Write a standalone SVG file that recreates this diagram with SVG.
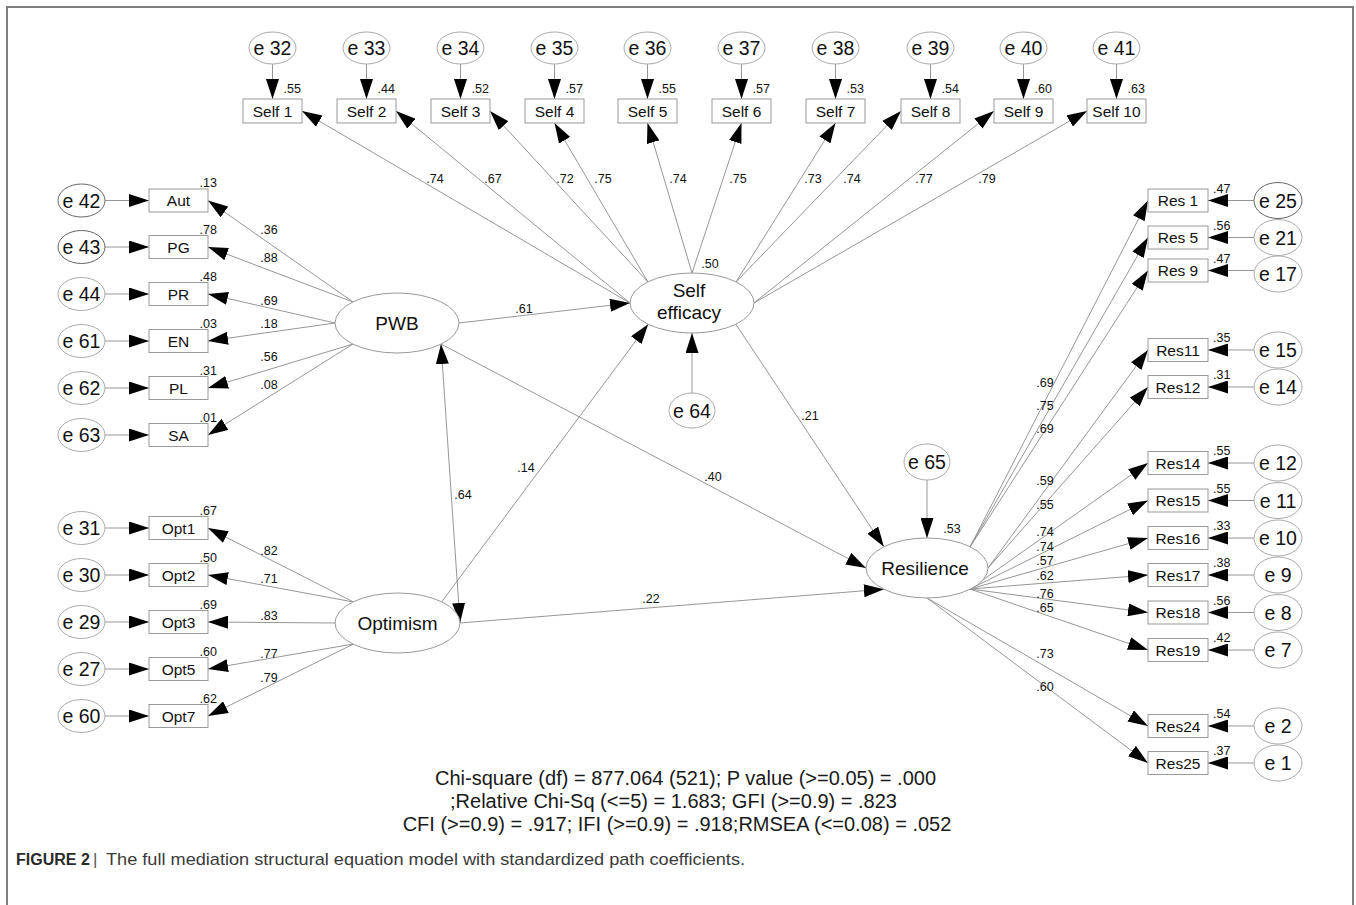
<svg xmlns="http://www.w3.org/2000/svg" width="1356" height="905" viewBox="0 0 1356 905">
<style>
.e{fill:#fff;stroke:#aaa;stroke-width:1}
.ed{fill:#fff;stroke:#666;stroke-width:1}
.box{fill:#fff;stroke:#999;stroke-width:1}
.lat{fill:#fff;stroke:#999;stroke-width:1}
.ln{stroke:#8a8a8a;stroke-width:0.9;fill:none;marker-end:url(#ah)}
.dl{stroke:#8a8a8a;stroke-width:0.9;fill:none;marker-end:url(#ah);marker-start:url(#ah)}
text{font-family:"Liberation Sans",Arial,sans-serif;fill:#111}
.et{font-size:19.5px;text-anchor:middle}
.lt{font-size:19px;text-anchor:middle}
.bt{font-size:15.5px;text-anchor:middle}
.nt{font-size:12.5px}
.nc{font-size:12.5px;text-anchor:middle}
.ne{font-size:12.5px;text-anchor:end}
.fit{font-size:20px;text-anchor:middle;fill:#1a1a1a}
</style>
<defs>
<marker id="ah" markerUnits="userSpaceOnUse" viewBox="0 0 20 13" markerWidth="20" markerHeight="13" refX="20" refY="6.5" orient="auto-start-reverse"><path d="M0,0 L20,6.5 L0,13 z" fill="#000"/></marker>
</defs>
<rect width="1356" height="905" fill="#fff"/>
<path d="M7,905 V7 H1353 V905" fill="none" stroke="#7f7f7f" stroke-width="2"/>

<g id="connectors">
<!-- top errors to Self -->
<line class="ln" x1="272.5" y1="64" x2="272.5" y2="99"/>
<line class="ln" x1="366.5" y1="64" x2="366.5" y2="99"/>
<line class="ln" x1="460.5" y1="64" x2="460.5" y2="99"/>
<line class="ln" x1="554.5" y1="64" x2="554.5" y2="99"/>
<line class="ln" x1="647.5" y1="64" x2="647.5" y2="99"/>
<line class="ln" x1="741.5" y1="64" x2="741.5" y2="99"/>
<line class="ln" x1="835.5" y1="64" x2="835.5" y2="99"/>
<line class="ln" x1="930.5" y1="64" x2="930.5" y2="99"/>
<line class="ln" x1="1023.5" y1="64" x2="1023.5" y2="99"/>
<line class="ln" x1="1116.5" y1="64" x2="1116.5" y2="99"/>
<!-- SE to Self -->
<line class="ln" x1="630" y1="303" x2="302" y2="111"/>
<line class="ln" x1="630" y1="303" x2="396" y2="111"/>
<line class="ln" x1="648" y1="282" x2="490" y2="111"/>
<line class="ln" x1="648" y1="282" x2="554.5" y2="123"/>
<line class="ln" x1="692" y1="273" x2="647.5" y2="123"/>
<line class="ln" x1="692" y1="273" x2="741.5" y2="123"/>
<line class="ln" x1="736" y1="282" x2="835.5" y2="123"/>
<line class="ln" x1="736" y1="282" x2="901" y2="111"/>
<line class="ln" x1="754" y1="303" x2="994" y2="111"/>
<line class="ln" x1="754" y1="303" x2="1087" y2="111"/>
<!-- left errors -->
<line class="ln" x1="105" y1="200.5" x2="149" y2="200.5"/>
<line class="ln" x1="105" y1="247" x2="149" y2="247"/>
<line class="ln" x1="105" y1="294" x2="149" y2="294"/>
<line class="ln" x1="105" y1="341" x2="149" y2="341"/>
<line class="ln" x1="105" y1="388" x2="149" y2="388"/>
<line class="ln" x1="105" y1="435" x2="149" y2="435"/>
<line class="ln" x1="105" y1="528" x2="149" y2="528"/>
<line class="ln" x1="105" y1="575" x2="149" y2="575"/>
<line class="ln" x1="105" y1="622" x2="149" y2="622"/>
<line class="ln" x1="105" y1="669" x2="149" y2="669"/>
<line class="ln" x1="105" y1="716" x2="149" y2="716"/>
<!-- PWB indicators -->
<line class="ln" x1="353" y1="302" x2="208" y2="200.5"/>
<line class="ln" x1="353" y1="302" x2="208" y2="247"/>
<line class="ln" x1="335" y1="323" x2="208" y2="294"/>
<line class="ln" x1="335" y1="323" x2="208" y2="341"/>
<line class="ln" x1="353" y1="344" x2="208" y2="388"/>
<line class="ln" x1="353" y1="344" x2="208" y2="435"/>
<!-- Optimism indicators -->
<line class="ln" x1="353.5" y1="602" x2="208" y2="528"/>
<line class="ln" x1="353.5" y1="602" x2="208" y2="575"/>
<line class="ln" x1="335" y1="623" x2="208" y2="622"/>
<line class="ln" x1="353.5" y1="644" x2="208" y2="669"/>
<line class="ln" x1="353.5" y1="644" x2="208" y2="716"/>
<!-- Resilience indicators -->
<line class="ln" x1="970" y1="547" x2="1148" y2="200.5"/>
<line class="ln" x1="970" y1="547" x2="1148" y2="237.5"/>
<line class="ln" x1="970" y1="547" x2="1148" y2="270.5"/>
<line class="ln" x1="988" y1="568" x2="1148" y2="350"/>
<line class="ln" x1="988" y1="568" x2="1148" y2="387"/>
<line class="ln" x1="970" y1="589" x2="1148" y2="463"/>
<line class="ln" x1="970" y1="589" x2="1148" y2="500.5"/>
<line class="ln" x1="970" y1="589" x2="1148" y2="538"/>
<line class="ln" x1="970" y1="589" x2="1148" y2="575"/>
<line class="ln" x1="970" y1="589" x2="1148" y2="612.5"/>
<line class="ln" x1="970" y1="589" x2="1148" y2="650"/>
<line class="ln" x1="927" y1="598" x2="1148" y2="726"/>
<line class="ln" x1="927" y1="598" x2="1148" y2="763"/>
<!-- right errors -->
<line class="ln" x1="1254" y1="200.5" x2="1208" y2="200.5"/>
<line class="ln" x1="1254" y1="237.5" x2="1208" y2="237.5"/>
<line class="ln" x1="1254" y1="270.5" x2="1208" y2="270.5"/>
<line class="ln" x1="1254" y1="350" x2="1208" y2="350"/>
<line class="ln" x1="1254" y1="387" x2="1208" y2="387"/>
<line class="ln" x1="1254" y1="463" x2="1208" y2="463"/>
<line class="ln" x1="1254" y1="500.5" x2="1208" y2="500.5"/>
<line class="ln" x1="1254" y1="538" x2="1208" y2="538"/>
<line class="ln" x1="1254" y1="575" x2="1208" y2="575"/>
<line class="ln" x1="1254" y1="612.5" x2="1208" y2="612.5"/>
<line class="ln" x1="1254" y1="650" x2="1208" y2="650"/>
<line class="ln" x1="1254" y1="726" x2="1208" y2="726"/>
<line class="ln" x1="1254" y1="763" x2="1208" y2="763"/>
<!-- structural -->
<line class="ln" x1="459" y1="323" x2="630" y2="303"/>
<line class="ln" x1="441" y1="344" x2="866" y2="568"/>
<line class="dl" x1="441" y1="344" x2="460" y2="623"/>
<line class="ln" x1="441.7" y1="601.8" x2="648.2" y2="324.2"/>
<line class="ln" x1="460" y1="623" x2="883.9" y2="589.2"/>
<line class="ln" x1="735.8" y1="324.2" x2="883.9" y2="546.8"/>
<line class="ln" x1="692" y1="393" x2="692" y2="333"/>
<line class="ln" x1="927" y1="480" x2="927" y2="538"/>
</g>

<g id="coef-labels">
<text class="nc" x="435" y="182.5">.74</text>
<text class="nc" x="493" y="182.5">.67</text>
<text class="nc" x="565" y="182.5">.72</text>
<text class="nc" x="603" y="182.5">.75</text>
<text class="nc" x="678" y="182.5">.74</text>
<text class="nc" x="738" y="182.5">.75</text>
<text class="nc" x="813" y="182.5">.73</text>
<text class="nc" x="852" y="182.5">.74</text>
<text class="nc" x="924" y="182.5">.77</text>
<text class="nc" x="987" y="182.5">.79</text>
<text class="nc" x="269" y="234">.36</text>
<text class="nc" x="269" y="262">.88</text>
<text class="nc" x="269" y="304.5">.69</text>
<text class="nc" x="269" y="327.5">.18</text>
<text class="nc" x="269" y="360.5">.56</text>
<text class="nc" x="269" y="388.5">.08</text>
<text class="nc" x="269" y="554.5">.82</text>
<text class="nc" x="269" y="582.5">.71</text>
<text class="nc" x="269" y="619.5">.83</text>
<text class="nc" x="269" y="657.5">.77</text>
<text class="nc" x="269" y="681.5">.79</text>
<text class="nc" x="1045" y="386.5">.69</text>
<text class="nc" x="1045" y="409.5">.75</text>
<text class="nc" x="1045" y="432.5">.69</text>
<text class="nc" x="1045" y="485">.59</text>
<text class="nc" x="1045" y="508.5">.55</text>
<text class="nc" x="1045" y="536">.74</text>
<text class="nc" x="1045" y="551">.74</text>
<text class="nc" x="1045" y="564.5">.57</text>
<text class="nc" x="1045" y="579.5">.62</text>
<text class="nc" x="1045" y="597.5">.76</text>
<text class="nc" x="1045" y="611.5">.65</text>
<text class="nc" x="1045" y="658">.73</text>
<text class="nc" x="1045" y="690.5">.60</text>
<text class="nc" x="524" y="312.5">.61</text>
<text class="nc" x="713" y="480.5">.40</text>
<text class="nc" x="463" y="498.5">.64</text>
<text class="nc" x="526" y="471.5">.14</text>
<text class="nc" x="651" y="602.5">.22</text>
<text class="nc" x="810" y="419.5">.21</text>
<text class="nc" x="710" y="267.5">.50</text>
<text class="nc" x="952" y="532.5">.53</text>
</g>

<!-- top error terms and Self items -->
<g id="e32"><ellipse class="e" cx="272.5" cy="48" rx="23.5" ry="16"/><text class="et" x="272.5" y="55">e 32</text></g>
<g id="e33"><ellipse class="e" cx="366.5" cy="48" rx="23.5" ry="16"/><text class="et" x="366.5" y="55">e 33</text></g>
<g id="e34"><ellipse class="e" cx="460.5" cy="48" rx="23.5" ry="16"/><text class="et" x="460.5" y="55">e 34</text></g>
<g id="e35"><ellipse class="e" cx="554.5" cy="48" rx="23.5" ry="16"/><text class="et" x="554.5" y="55">e 35</text></g>
<g id="e36"><ellipse class="e" cx="647.5" cy="48" rx="23.5" ry="16"/><text class="et" x="647.5" y="55">e 36</text></g>
<g id="e37"><ellipse class="e" cx="741.5" cy="48" rx="23.5" ry="16"/><text class="et" x="741.5" y="55">e 37</text></g>
<g id="e38"><ellipse class="e" cx="835.5" cy="48" rx="23.5" ry="16"/><text class="et" x="835.5" y="55">e 38</text></g>
<g id="e39"><ellipse class="e" cx="930.5" cy="48" rx="23.5" ry="16"/><text class="et" x="930.5" y="55">e 39</text></g>
<g id="e40"><ellipse class="e" cx="1023.5" cy="48" rx="23.5" ry="16"/><text class="et" x="1023.5" y="55">e 40</text></g>
<g id="e41"><ellipse class="e" cx="1116.5" cy="48" rx="23.5" ry="16"/><text class="et" x="1116.5" y="55">e 41</text></g>

<g id="self1"><rect class="box" x="243" y="99" width="59" height="24"/><text class="bt" x="272.5" y="116.5">Self 1</text><text class="nt" x="283.5" y="93">.55</text></g>
<g id="self2"><rect class="box" x="337" y="99" width="59" height="24"/><text class="bt" x="366.5" y="116.5">Self 2</text><text class="nt" x="377.5" y="93">.44</text></g>
<g id="self3"><rect class="box" x="431" y="99" width="59" height="24"/><text class="bt" x="460.5" y="116.5">Self 3</text><text class="nt" x="471.5" y="93">.52</text></g>
<g id="self4"><rect class="box" x="525" y="99" width="59" height="24"/><text class="bt" x="554.5" y="116.5">Self 4</text><text class="nt" x="565.5" y="93">.57</text></g>
<g id="self5"><rect class="box" x="618" y="99" width="59" height="24"/><text class="bt" x="647.5" y="116.5">Self 5</text><text class="nt" x="658.5" y="93">.55</text></g>
<g id="self6"><rect class="box" x="712" y="99" width="59" height="24"/><text class="bt" x="741.5" y="116.5">Self 6</text><text class="nt" x="752.5" y="93">.57</text></g>
<g id="self7"><rect class="box" x="806" y="99" width="59" height="24"/><text class="bt" x="835.5" y="116.5">Self 7</text><text class="nt" x="846.5" y="93">.53</text></g>
<g id="self8"><rect class="box" x="901" y="99" width="59" height="24"/><text class="bt" x="930.5" y="116.5">Self 8</text><text class="nt" x="941.5" y="93">.54</text></g>
<g id="self9"><rect class="box" x="994" y="99" width="59" height="24"/><text class="bt" x="1023.5" y="116.5">Self 9</text><text class="nt" x="1034.5" y="93">.60</text></g>
<g id="self10"><rect class="box" x="1087" y="99" width="59" height="24"/><text class="bt" x="1116.5" y="116.5">Self 10</text><text class="nt" x="1127.5" y="93">.63</text></g>

<!-- left side -->
<g id="e42"><ellipse class="ed" cx="81.5" cy="200.5" rx="23.5" ry="16.5"/><text class="et" x="81.5" y="207.5">e 42</text></g>
<g id="e43"><ellipse class="ed" cx="81.5" cy="247" rx="23.5" ry="16.5"/><text class="et" x="81.5" y="254">e 43</text></g>
<g id="e44"><ellipse class="e" cx="81.5" cy="294" rx="23.5" ry="16.5"/><text class="et" x="81.5" y="301">e 44</text></g>
<g id="e61"><ellipse class="e" cx="81.5" cy="341" rx="23.5" ry="16.5"/><text class="et" x="81.5" y="348">e 61</text></g>
<g id="e62"><ellipse class="e" cx="81.5" cy="388" rx="23.5" ry="16.5"/><text class="et" x="81.5" y="395">e 62</text></g>
<g id="e63"><ellipse class="e" cx="81.5" cy="435" rx="23.5" ry="16.5"/><text class="et" x="81.5" y="442">e 63</text></g>
<g id="e31"><ellipse class="e" cx="81.5" cy="528" rx="23.5" ry="16.5"/><text class="et" x="81.5" y="535">e 31</text></g>
<g id="e30"><ellipse class="e" cx="81.5" cy="575" rx="23.5" ry="16.5"/><text class="et" x="81.5" y="582">e 30</text></g>
<g id="e29"><ellipse class="e" cx="81.5" cy="622" rx="23.5" ry="16.5"/><text class="et" x="81.5" y="629">e 29</text></g>
<g id="e27"><ellipse class="e" cx="81.5" cy="669" rx="23.5" ry="16.5"/><text class="et" x="81.5" y="676">e 27</text></g>
<g id="e60"><ellipse class="e" cx="81.5" cy="716" rx="23.5" ry="16.5"/><text class="et" x="81.5" y="723">e 60</text></g>

<g id="aut"><rect class="box" x="149" y="189" width="59" height="23"/><text class="bt" x="178.5" y="206">Aut</text><text class="ne" x="217" y="187">.13</text></g>
<g id="pg"><rect class="box" x="149" y="235.5" width="59" height="23"/><text class="bt" x="178.5" y="252.5">PG</text><text class="ne" x="217" y="233.5">.78</text></g>
<g id="pr"><rect class="box" x="149" y="282.5" width="59" height="23"/><text class="bt" x="178.5" y="299.5">PR</text><text class="ne" x="217" y="280.5">.48</text></g>
<g id="en"><rect class="box" x="149" y="329.5" width="59" height="23"/><text class="bt" x="178.5" y="346.5">EN</text><text class="ne" x="217" y="327.5">.03</text></g>
<g id="pl"><rect class="box" x="149" y="376.5" width="59" height="23"/><text class="bt" x="178.5" y="393.5">PL</text><text class="ne" x="217" y="374.5">.31</text></g>
<g id="sa"><rect class="box" x="149" y="423.5" width="59" height="23"/><text class="bt" x="178.5" y="440.5">SA</text><text class="ne" x="217" y="421.5">.01</text></g>
<g id="opt1"><rect class="box" x="149" y="516.5" width="59" height="23"/><text class="bt" x="178.5" y="533.5">Opt1</text><text class="ne" x="217" y="514.5">.67</text></g>
<g id="opt2"><rect class="box" x="149" y="563.5" width="59" height="23"/><text class="bt" x="178.5" y="580.5">Opt2</text><text class="ne" x="217" y="561.5">.50</text></g>
<g id="opt3"><rect class="box" x="149" y="610.5" width="59" height="23"/><text class="bt" x="178.5" y="627.5">Opt3</text><text class="ne" x="217" y="608.5">.69</text></g>
<g id="opt5"><rect class="box" x="149" y="657.5" width="59" height="23"/><text class="bt" x="178.5" y="674.5">Opt5</text><text class="ne" x="217" y="655.5">.60</text></g>
<g id="opt7"><rect class="box" x="149" y="704.5" width="59" height="23"/><text class="bt" x="178.5" y="721.5">Opt7</text><text class="ne" x="217" y="702.5">.62</text></g>

<!-- latent variables -->
<g id="pwb"><ellipse class="lat" cx="397" cy="323" rx="62" ry="30"/><text class="lt" x="397" y="330">PWB</text></g>
<g id="optimism"><ellipse class="lat" cx="397.5" cy="623" rx="62.5" ry="30"/><text class="lt" x="397.5" y="630">Optimism</text></g>
<g id="selfefficacy"><ellipse class="lat" cx="692" cy="303" rx="62" ry="30"/><text class="lt" x="689" y="297">Self</text><text class="lt" x="689" y="319">efficacy</text></g>
<g id="resilience"><ellipse class="lat" cx="927" cy="568" rx="61" ry="30"/><text class="lt" x="925" y="575">Resilience</text></g>
<g id="e64"><ellipse class="e" cx="692" cy="410.5" rx="23" ry="17.5"/><text class="et" x="692" y="417.5">e 64</text></g>
<g id="e65"><ellipse class="e" cx="927" cy="462" rx="23" ry="18"/><text class="et" x="927" y="469">e 65</text></g>

<!-- right side -->
<g id="res1"><rect class="box" x="1148" y="189" width="60" height="23"/><text class="bt" x="1178" y="206">Res 1</text><text class="nt" x="1213" y="192.5">.47</text></g>
<g id="res5"><rect class="box" x="1148" y="226" width="60" height="23"/><text class="bt" x="1178" y="243">Res 5</text><text class="nt" x="1213" y="229.5">.56</text></g>
<g id="res9"><rect class="box" x="1148" y="259" width="60" height="23"/><text class="bt" x="1178" y="276">Res 9</text><text class="nt" x="1213" y="262.5">.47</text></g>
<g id="res11"><rect class="box" x="1148" y="338.5" width="60" height="23"/><text class="bt" x="1178" y="355.5">Res11</text><text class="nt" x="1213" y="342">.35</text></g>
<g id="res12"><rect class="box" x="1148" y="375.5" width="60" height="23"/><text class="bt" x="1178" y="392.5">Res12</text><text class="nt" x="1213" y="379">.31</text></g>
<g id="res14"><rect class="box" x="1148" y="451.5" width="60" height="23"/><text class="bt" x="1178" y="468.5">Res14</text><text class="nt" x="1213" y="455">.55</text></g>
<g id="res15"><rect class="box" x="1148" y="489" width="60" height="23"/><text class="bt" x="1178" y="506">Res15</text><text class="nt" x="1213" y="492.5">.55</text></g>
<g id="res16"><rect class="box" x="1148" y="526.5" width="60" height="23"/><text class="bt" x="1178" y="543.5">Res16</text><text class="nt" x="1213" y="530">.33</text></g>
<g id="res17"><rect class="box" x="1148" y="563.5" width="60" height="23"/><text class="bt" x="1178" y="580.5">Res17</text><text class="nt" x="1213" y="567">.38</text></g>
<g id="res18"><rect class="box" x="1148" y="601" width="60" height="23"/><text class="bt" x="1178" y="618">Res18</text><text class="nt" x="1213" y="604.5">.56</text></g>
<g id="res19"><rect class="box" x="1148" y="638.5" width="60" height="23"/><text class="bt" x="1178" y="655.5">Res19</text><text class="nt" x="1213" y="642">.42</text></g>
<g id="res24"><rect class="box" x="1148" y="714.5" width="60" height="23"/><text class="bt" x="1178" y="731.5">Res24</text><text class="nt" x="1213" y="718">.54</text></g>
<g id="res25"><rect class="box" x="1148" y="751.5" width="60" height="23"/><text class="bt" x="1178" y="768.5">Res25</text><text class="nt" x="1213" y="755">.37</text></g>

<g id="e25"><ellipse class="ed" cx="1278" cy="200.5" rx="24" ry="18"/><text class="et" x="1278" y="207.5">e 25</text></g>
<g id="e21"><ellipse class="e" cx="1278" cy="237.5" rx="24" ry="18"/><text class="et" x="1278" y="244.5">e 21</text></g>
<g id="e17"><ellipse class="e" cx="1278" cy="274" rx="24" ry="18"/><text class="et" x="1278" y="281">e 17</text></g>
<g id="e15"><ellipse class="e" cx="1278" cy="350" rx="24" ry="18"/><text class="et" x="1278" y="357">e 15</text></g>
<g id="e14"><ellipse class="e" cx="1278" cy="387" rx="24" ry="18"/><text class="et" x="1278" y="394">e 14</text></g>
<g id="e12"><ellipse class="e" cx="1278" cy="463" rx="24" ry="18"/><text class="et" x="1278" y="470">e 12</text></g>
<g id="e11"><ellipse class="e" cx="1278" cy="500.5" rx="24" ry="18"/><text class="et" x="1278" y="507.5">e 11</text></g>
<g id="e10"><ellipse class="e" cx="1278" cy="538" rx="24" ry="18"/><text class="et" x="1278" y="545">e 10</text></g>
<g id="e9"><ellipse class="e" cx="1278" cy="575" rx="24" ry="18"/><text class="et" x="1278" y="582">e 9</text></g>
<g id="e8"><ellipse class="e" cx="1278" cy="612.5" rx="24" ry="18"/><text class="et" x="1278" y="619.5">e 8</text></g>
<g id="e7"><ellipse class="e" cx="1278" cy="650" rx="24" ry="18"/><text class="et" x="1278" y="657">e 7</text></g>
<g id="e2"><ellipse class="e" cx="1278" cy="726" rx="24" ry="18"/><text class="et" x="1278" y="733">e 2</text></g>
<g id="e1"><ellipse class="e" cx="1278" cy="763" rx="24" ry="18"/><text class="et" x="1278" y="770">e 1</text></g>

<g id="fit">
<text class="fit" x="685.5" y="785">Chi-square (df) = 877.064 (521); P value (&gt;=0.05) = .000</text>
<text class="fit" x="673.5" y="808">;Relative Chi-Sq (&lt;=5) = 1.683; GFI (&gt;=0.9) = .823</text>
<text class="fit" x="677" y="831">CFI (&gt;=0.9) = .917; IFI (&gt;=0.9) = .918;RMSEA (&lt;=0.08) = .052</text>
</g>

<g id="caption">
<text x="16" y="865" style="font-size:16px;font-weight:bold;fill:#2a2a2a">FIGURE 2</text>
<text x="93" y="865" style="font-size:17px;fill:#555">|</text>
<text x="106" y="865" style="font-size:17px;fill:#3a3a3a" textLength="639" lengthAdjust="spacingAndGlyphs">The full mediation structural equation model with standardized path coefficients.</text>
</g>
</svg>
